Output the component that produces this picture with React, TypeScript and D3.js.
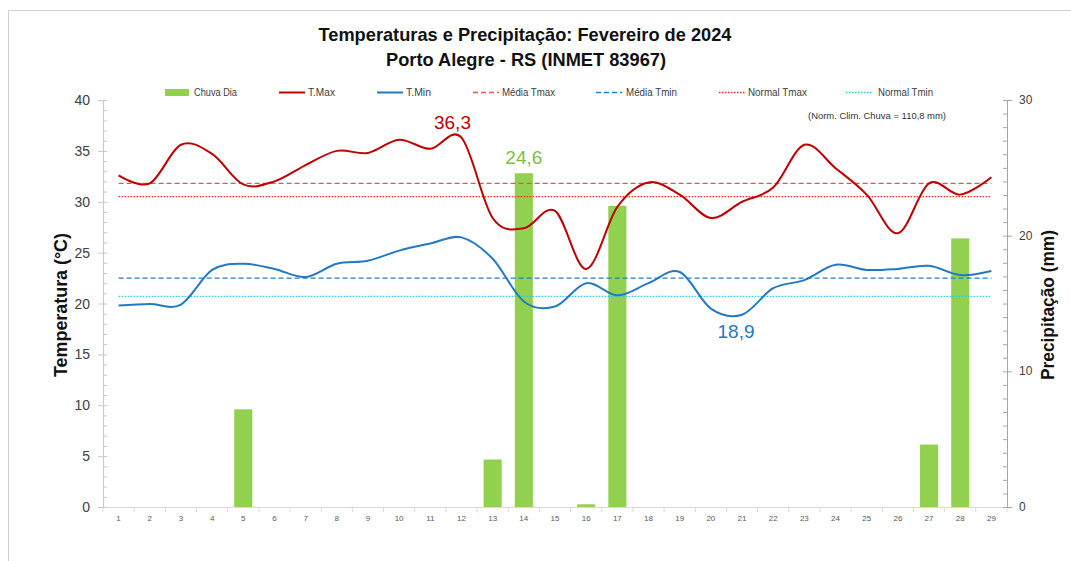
import React, { useEffect, useRef } from 'react'
import * as d3 from 'd3'

// dados (fev/2024, Porto Alegre)
const days = d3.range(1, 30)
const tmax = [32.6, 31.8, 35.6, 34.7, 31.7, 32.0, 33.6, 35.0, 34.8, 36.1, 35.2, 36.3, 28.4, 27.4, 29.1, 23.4, 29.5, 31.9, 30.7, 28.4, 30.0, 31.4, 35.6, 33.3, 30.7, 26.9, 31.8, 30.7, 32.4]
const tmin = [19.8, 19.95, 19.9, 23.3, 23.9, 23.4, 22.6, 23.9, 24.2, 25.2, 25.9, 26.5, 24.4, 20.2, 19.7, 22.0, 20.8, 22.0, 23.1, 19.5, 18.9, 21.5, 22.3, 23.8, 23.3, 23.4, 23.7, 22.8, 23.2]
const chuva = [0, 0, 0, 0, 7.2, 0, 0, 0, 0, 0, 0, 0, 3.5, 24.6, 0, 0.2, 22.2, 0, 0, 0, 0, 0, 0, 0, 0, 0, 4.6, 19.8, 0]
const mediaTmax = 31.8
const mediaTmin = 22.5
const normalTmax = 30.5
const normalTmin = 20.7
const tempTicks = [0, 5, 10, 15, 20, 25, 30, 35, 40]
const chuvaTicks = [0, 10, 20, 30]

const RED = '#C00000'
const BLUE = '#2479C4'
const GREEN = '#92D050'
const FONT = "'Liberation Sans Narrow', 'Liberation Sans', Arial, sans-serif"

function App() {
  const ref = useRef(null)

  useEffect(() => {
    const svg = d3.select(ref.current)
    svg.selectAll('*').remove()

    const left = 103
    const right = 1007
    const top = 100
    const bottom = 507

    const x = d3.scaleBand().domain(days.map(String)).range([left, right]).paddingInner(0.42).paddingOuter(0.21)
    const xc = (i) => x(String(days[i])) + x.bandwidth() / 2
    const band = (right - left) / days.length
    const yT = d3.scaleLinear().domain([0, 40]).range([bottom, top])
    const yP = d3.scaleLinear().domain([0, 30]).range([bottom, top])

    // moldura
    svg.append('path')
      .attr('d', `M8.5,561 V10.5 H1071`)
      .attr('fill', 'none')
      .attr('stroke', '#D0D0D0')

    // titulo
    svg.append('text').attr('x', 525).attr('y', 41).attr('text-anchor', 'middle')
      .attr('font-family', FONT).attr('font-weight', 'bold').attr('font-size', 19).attr('fill', '#111')
      .attr('textLength', 413).attr('lengthAdjust', 'spacingAndGlyphs')
      .text('Temperaturas e Precipitação: Fevereiro de 2024')
    svg.append('text').attr('x', 526).attr('y', 66).attr('text-anchor', 'middle')
      .attr('font-family', FONT).attr('font-weight', 'bold').attr('font-size', 19).attr('fill', '#111')
      .attr('textLength', 280).attr('lengthAdjust', 'spacingAndGlyphs')
      .text('Porto Alegre - RS (INMET 83967)')

    // barras de chuva
    svg.append('g').selectAll('rect')
      .data(chuva)
      .join('rect')
      .attr('x', (d, i) => x(String(days[i])))
      .attr('width', x.bandwidth())
      .attr('y', d => yP(d))
      .attr('height', d => yP(0) - yP(d))
      .attr('fill', GREEN)

    // eixo x
    const gx = svg.append('g')
    gx.append('line').attr('x1', left).attr('x2', right).attr('y1', bottom + 0.5).attr('y2', bottom + 0.5).attr('stroke', '#D9D9D9')
    gx.selectAll('.tk').data(d3.range(days.length + 1)).join('line')
      .attr('x1', i => left + i * band).attr('x2', i => left + i * band)
      .attr('y1', bottom).attr('y2', bottom + 5).attr('stroke', '#D9D9D9')
    gx.selectAll('text').data(days).join('text')
      .attr('x', (d, i) => xc(i)).attr('y', 521).attr('text-anchor', 'middle')
      .attr('font-family', FONT).attr('font-size', 8).attr('fill', '#595959')
      .text(d => d)

    // eixo temperatura
    const gl = svg.append('g')
    gl.append('line').attr('x1', left + 0.5).attr('x2', left + 0.5).attr('y1', top).attr('y2', bottom).attr('stroke', '#C8C8C8')
    gl.selectAll('.mn').data(d3.range(0, 41)).join('line')
      .attr('x1', left).attr('x2', left + 4).attr('y1', d => yT(d) + 0.5).attr('y2', d => yT(d) + 0.5).attr('stroke', '#C8C8C8')
    gl.selectAll('.mj').data(tempTicks).join('line')
      .attr('x1', left - 5).attr('x2', left).attr('y1', d => yT(d) + 0.5).attr('y2', d => yT(d) + 0.5).attr('stroke', '#C8C8C8')
    gl.selectAll('text').data(tempTicks).join('text')
      .attr('x', 90).attr('y', d => yT(d) + 5).attr('text-anchor', 'end')
      .attr('font-family', FONT).attr('font-size', 14).attr('fill', '#404040')
      .text(d => d)
    svg.append('text').attr('transform', 'translate(67,305) rotate(-90)').attr('text-anchor', 'middle')
      .attr('font-family', FONT).attr('font-weight', 'bold').attr('font-size', 18).attr('fill', '#111')
      .attr('textLength', 144).attr('lengthAdjust', 'spacingAndGlyphs')
      .text('Temperatura (°C)')

    // eixo precipitação
    const gr = svg.append('g')
    gr.append('line').attr('x1', right + 0.5).attr('x2', right + 0.5).attr('y1', top).attr('y2', bottom).attr('stroke', '#A6A6A6')
    gr.selectAll('.mn').data(d3.range(0, 31)).join('line')
      .attr('x1', right - 4).attr('x2', right).attr('y1', d => yP(d) + 0.5).attr('y2', d => yP(d) + 0.5).attr('stroke', '#A6A6A6')
    gr.selectAll('.mj').data(chuvaTicks).join('line')
      .attr('x1', right).attr('x2', right + 5).attr('y1', d => yP(d) + 0.5).attr('y2', d => yP(d) + 0.5).attr('stroke', '#A6A6A6')
    gr.selectAll('text').data(chuvaTicks).join('text')
      .attr('x', 1019).attr('y', d => yP(d) + 4).attr('text-anchor', 'start')
      .attr('font-family', FONT).attr('font-size', 12).attr('fill', '#404040')
      .text(d => d)
    svg.append('text').attr('transform', 'translate(1054,305) rotate(-90)').attr('text-anchor', 'middle')
      .attr('font-family', FONT).attr('font-weight', 'bold').attr('font-size', 18).attr('fill', '#111')
      .attr('textLength', 150).attr('lengthAdjust', 'spacingAndGlyphs')
      .text('Precipitação (mm)')

    // linhas de referencia
    const refs = [
      { v: mediaTmax, color: '#E05555', dash: '5,3' },
      { v: normalTmax, color: '#FF2020', dash: '1.5,1.5' },
      { v: mediaTmin, color: '#1F7FD0', dash: '5,3' },
      { v: normalTmin, color: '#33C4F0', dash: '1.5,1.5' }
    ]
    svg.append('g').selectAll('line').data(refs).join('line')
      .attr('x1', xc(0)).attr('x2', xc(days.length - 1))
      .attr('y1', d => yT(d.v)).attr('y2', d => yT(d.v))
      .attr('stroke', d => d.color).attr('stroke-width', 1.3).attr('stroke-dasharray', d => d.dash)

    // curvas suavizadas
    const line = d3.line().x((d, i) => xc(i)).y(d => yT(d)).curve(d3.curveCardinal.tension(0))
    svg.append('path').attr('d', line(tmax)).attr('fill', 'none').attr('stroke', RED).attr('stroke-width', 2)
    svg.append('path').attr('d', line(tmin)).attr('fill', 'none').attr('stroke', BLUE).attr('stroke-width', 2)

    // rotulos de destaque
    const iMax = d3.maxIndex(tmax)
    const iMin = d3.minIndex(tmin)
    const iChuva = d3.maxIndex(chuva)
    svg.append('text').attr('x', xc(iMax) - 9).attr('y', yT(tmax[iMax]) - 9).attr('text-anchor', 'middle')
      .attr('font-family', FONT).attr('font-size', 19).attr('fill', RED)
      .text(String(tmax[iMax]).replace('.', ','))
    svg.append('text').attr('x', xc(iChuva)).attr('y', yP(chuva[iChuva]) - 9).attr('text-anchor', 'middle')
      .attr('font-family', FONT).attr('font-size', 19).attr('fill', '#7DBE45')
      .text(String(chuva[iChuva]).replace('.', ','))
    svg.append('text').attr('x', xc(iMin) - 6).attr('y', yT(tmin[iMin]) + 23).attr('text-anchor', 'middle')
      .attr('font-family', FONT).attr('font-size', 19).attr('fill', BLUE)
      .text(String(tmin[iMin]).replace('.', ','))

    svg.append('text').attr('x', 877).attr('y', 119).attr('text-anchor', 'middle')
      .attr('font-family', FONT).attr('font-size', 9).attr('fill', '#333')
      .attr('textLength', 138).attr('lengthAdjust', 'spacingAndGlyphs')
      .text('(Norm. Clim. Chuva = 110,8 mm)')

    // legenda
    const legend = [
      { name: 'Chuva Dia', kind: 'bar', color: GREEN, x0: 165, tx: 194, tw: 43 },
      { name: 'T.Max', kind: 'line', color: RED, x0: 279, tx: 308, tw: 27 },
      { name: 'T.Min', kind: 'line', color: BLUE, x0: 377, tx: 406, tw: 25 },
      { name: 'Média Tmax', kind: '5,3', color: '#E05555', x0: 473, tx: 502, tw: 53 },
      { name: 'Média Tmin', kind: '5,3', color: '#1F7FD0', x0: 596, tx: 626, tw: 51 },
      { name: 'Normal Tmax', kind: '1.5,1.5', color: '#FF2020', x0: 719, tx: 748, tw: 59 },
      { name: 'Normal Tmin', kind: '1.5,1.5', color: '#33C4F0', x0: 846, tx: 878, tw: 55 }
    ]
    const gLeg = svg.append('g')
    legend.forEach(l => {
      if (l.kind === 'bar') {
        gLeg.append('rect').attr('x', l.x0).attr('y', 89).attr('width', 24).attr('height', 7).attr('fill', l.color)
      } else {
        gLeg.append('line').attr('x1', l.x0).attr('x2', l.x0 + 26).attr('y1', 92.5).attr('y2', 92.5)
          .attr('stroke', l.color).attr('stroke-width', l.kind === 'line' ? 2 : 1.3)
          .attr('stroke-dasharray', l.kind === 'line' ? null : l.kind)
      }
      gLeg.append('text').attr('x', l.tx).attr('y', 96).attr('font-family', FONT).attr('font-size', 10).attr('fill', '#404040')
        .attr('textLength', l.tw).attr('lengthAdjust', 'spacingAndGlyphs')
        .text(l.name)
    })
  }, [])

  return (
    <svg ref={ref} width={1071} height={561} style={{ position: 'absolute', left: 0, top: 0, background: '#fff' }} />
  )
}

export default App
